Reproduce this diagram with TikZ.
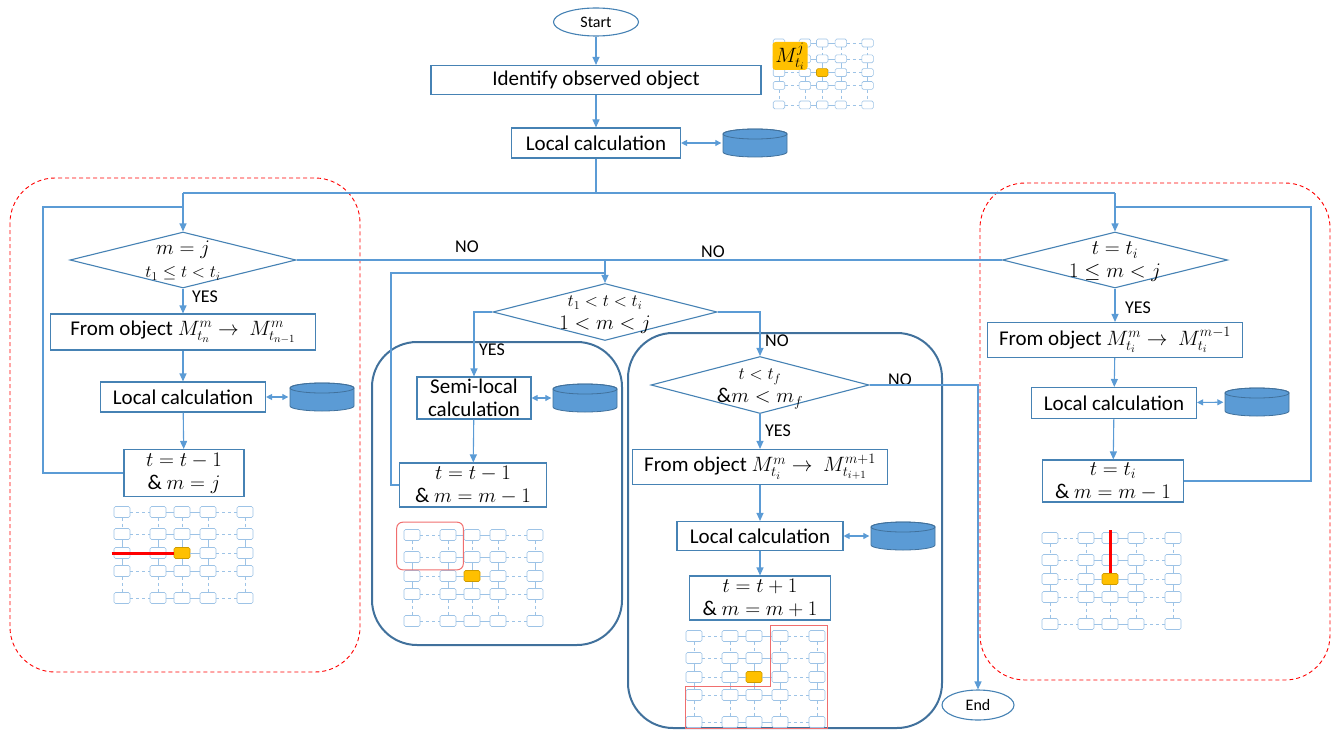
\documentclass[tikz,border=0pt]{standalone}
\usepackage{fontspec}
\setmainfont{Carlito}
\usepackage{amsmath,amssymb}
\usetikzlibrary{arrows.meta,positioning,shapes.geometric,calc}

\definecolor{flowblue}{RGB}{91,155,213}
\definecolor{boxblue}{RGB}{70,130,180}
\definecolor{panelblue}{RGB}{65,113,156}
\definecolor{gridblue}{RGB}{157,195,230}
\definecolor{hotorange}{RGB}{255,192,0}
\definecolor{markred}{RGB}{240,110,110}

\newcommand{\smallmath}{\fontsize{17}{20}\selectfont}
\newcommand{\cond}[2]{\makebox[0pt]{\smash{\raisebox{-7pt}{\begin{tabular}{@{}c@{}}#1\\#2\end{tabular}}}}}

\tikzset{
  every node/.style={font=\fontsize{21}{23}\selectfont},
  proc/.style={rectangle, draw=boxblue, line width=1.1pt, fill=white, inner sep=0pt, align=center},
  decide/.style={diamond, draw=boxblue, line width=1.1pt, fill=white, inner sep=0pt},
  term/.style={ellipse, draw=boxblue, line width=1.1pt, fill=white, inner sep=0pt, font=\fontsize{16}{18}\selectfont},
  store/.style={rectangle, minimum width=67pt, minimum height=32pt, inner sep=0pt,
    path picture={
      \begin{scope}[shift={(path picture bounding box.center)}, x=1pt, y=1pt]
        \filldraw[fill=flowblue, draw=panelblue, line width=0.8pt] (-32,9) -- (-32,-9)
          arc[start angle=180, end angle=360, x radius=32, y radius=5] -- (32,9)
          arc[start angle=0, end angle=180, x radius=32, y radius=5] -- cycle;
        \draw[panelblue, line width=0.8pt] (0,9) ellipse[x radius=32, y radius=5];
      \end{scope}
    }},
  line/.style={draw=flowblue, line width=1.1pt},
  flow/.style={line, -{Triangle[length=8pt,width=7pt]}},
  both/.style={line, {Triangle[length=6pt,width=6pt]}-{Triangle[length=6pt,width=6pt]}},
  tag/.style={font=\fontsize{18}{20}\selectfont},
  panel/.style={draw=panelblue, line width=2pt, rounded corners=45pt},
  zone/.style={draw=red, dash pattern=on 4pt off 3pt, line width=0.9pt, rounded corners=45pt},
  cell/.style={rectangle, rounded corners=1.5pt, draw=gridblue, fill=white, line width=0.6pt, minimum width=16pt, minimum height=11pt, inner sep=0pt},
  hotcell/.style={cell, fill=hotorange, draw=hotorange!80!black},
  link/.style={draw=gridblue, line width=0.6pt},
  redmark/.style={draw=red, line width=3pt},
  redbox/.style={draw=markred, line width=1pt},
  mgrid/.pic={
    \foreach \cx [count=\i] in {0,36,60,86,123}
      \foreach \cy [count=\j] in {0,22,41,59,86} {
        \def\st{cell}
        \ifnum\i\j=33 \def\st{hotcell}\fi
        \node[\st] (-c\i\j) at (\cx,\cy) {};
      }
    \foreach \j in {1,...,5} {
      \draw[link, dashed] (-c1\j) -- (-c2\j);
      \draw[link] (-c2\j) -- (-c3\j) (-c3\j) -- (-c4\j);
      \draw[link, dashed] (-c4\j) -- (-c5\j);
    }
    \foreach \i in {1,...,5} {
      \draw[link, dashed] (-c\i1) -- (-c\i2);
      \draw[link] (-c\i2) -- (-c\i3) (-c\i3) -- (-c\i4);
      \draw[link, dashed] (-c\i4) -- (-c\i5);
    }
  }
}

\begin{document}
\begin{tikzpicture}[x=1pt, y=-1pt]
\useasboundingbox (0,0) rectangle (1337,733);

% zones and panels
\draw[zone] (10,178) rectangle (360,672);
\draw[zone] (980,183) rectangle (1330,680);
\draw[panel] (372,342) rectangle (622,645);
\draw[panel] (628,333) rectangle (942,728);

% main column
\node[term, minimum width=85pt, minimum height=28pt] (start) at (596,22) {Start};
\node[proc, minimum width=330pt, minimum height=29pt] (ident) at (596,80) {Identify observed object};
\node[proc, minimum width=169pt, minimum height=30pt] (calc) at (596,143) {Local calculation};
\node[store] (db) at (755,143) {};
\pic[scale=0.72, transform shape] (gt) at (779,43) {mgrid};
\node[fill=hotorange, rounded corners=3pt, minimum width=35pt, minimum height=28pt, inner sep=0pt, font=\fontsize{20}{22}\selectfont] (lab) at (790,56) {$M^{j}_{t_i}$};

% left branch
\node[decide, minimum width=226pt, minimum height=56pt] (dl) at (183,260) {\cond{$m=j$}{\smallmath $t_1\le t<t_i$}};
\node[proc, minimum width=265pt, minimum height=36pt] (fromL) at (183,332) {From object $M^m_{t_n}\rightarrow\ M^m_{t_{n-1}}$};
\node[proc, minimum width=165pt, minimum height=30pt] (calcL) at (183,397) {Local calculation};
\node[store] (dbL) at (322,397) {};
\node[proc, minimum width=120pt, minimum height=47pt] (stepL) at (184,473) {$t=t-1$\\\& $m=j$};
\pic (gl) at (122,512) {mgrid};
\draw[redmark] ([xshift=-2pt]gl-c13.west) -- (gl-c33.west);

% middle branch
\node[decide, minimum width=224pt, minimum height=57pt] (dm) at (605,312) {\cond{\smallmath $t_1<t<t_i$}{$1<m<j$}};
\node[proc, minimum width=114pt, minimum height=42pt] (semi) at (474,398) {Semi-local\\calculation};
\node[store] (dbM) at (585,398) {};
\node[proc, minimum width=147pt, minimum height=44pt] (stepM) at (473,485) {$t=t-1$\\\& $m=m-1$};
\pic (gm) at (412,535) {mgrid};
\draw[redbox, rounded corners=6pt] ([shift={(-7,-7)}]gm-c11.north west) rectangle ([shift={(7,7)}]gm-c22.south east);

\node[decide, minimum width=218pt, minimum height=57pt] (dt) at (760,385) {\cond{\smallmath $t<t_f$}{\&$m<m_f$}};
\node[term, minimum width=72pt, minimum height=30pt] (end) at (978,705) {End};
\node[proc, minimum width=255pt, minimum height=35pt] (fromP) at (760,467) {From object $M^m_{t_i}\rightarrow\ M^{m+1}_{t_{i+1}}$};
\node[proc, minimum width=166pt, minimum height=29pt] (calcP) at (760,536) {Local calculation};
\node[store] (dbP) at (903,536) {};
\node[proc, minimum width=141pt, minimum height=44pt] (stepP) at (760,598) {$t=t+1$\\\& $m=m+1$};
\pic (gp) at (694,636) {mgrid};
\draw[redbox] ($(gp-c41.north west)+(-1,-5)$) -- ($(gp-c51.north east)+(2,-5)$) -- ($(gp-c55.south east)+(2,1)$)
  -- ($(gp-c15.south west)+(0,1)$) |- ($(gp-c43.south west)+(-1,4)$) -- cycle;

% right branch
\node[decide, minimum width=225pt, minimum height=56pt] (dr) at (1115,260) {\cond{$t=t_i$}{$1\le m<j$}};
\node[proc, minimum width=255pt, minimum height=35pt] (fromR) at (1115,340) {From object $M^m_{t_i}\rightarrow\ M^{m-1}_{t_i}$};
\node[proc, minimum width=165pt, minimum height=31pt] (calcR) at (1114,403) {Local calculation};
\node[store] (dbR) at (1257,402) {};
\node[proc, minimum width=141pt, minimum height=42pt] (stepR) at (1113,481) {$t=t_i$\\\& $m=m-1$};
\pic (gr) at (1050,538) {mgrid};
\draw[redmark] ([yshift=2pt]gr-c31.north) -- (gr-c33.north);

% labels
\node[tag] (yesL) at (205,297) {YES};
\node[tag] (noL) at (467,247) {NO};
\node[tag] (noR) at (713,252) {NO};
\node[tag] (yesM) at (492,350) {YES};
\node[tag] (noM) at (777,341) {NO};
\node[tag] (noE) at (900,380) {NO};
\node[tag] (yesP) at (778,431) {YES};
\node[tag] (yesR) at (1138,308) {YES};

% connectors
\coordinate (jl) at (183,193);
\coordinate (jr) at (1115,193);
\coordinate (loopL) at (43,207);
\coordinate (loopM) at (391,273);
\coordinate (loopR) at (1311,207);
\draw[flow] (start) -- (ident);
\draw[flow] (ident) -- (calc);
\draw[both] (calc) -- (db);
\draw[line] (calc.south) |- (jl);
\draw[line] (calc.south) |- (jr);
\draw[flow] (jl) -- (dl.north);
\draw[flow] (jr) -- (dr.north);
\draw[line] (stepL.west) -| (loopL) -- (loopL -| dl.north);
\draw[line] (stepR.east) -| (loopR) -- (loopR -| dr.north);
\draw[line] (dl.east) -- (dr.west);
\draw[flow] (dl.east -| dm.north) -- (dm.north);
\draw[line] (stepM.west) -| (loopM) -- (loopM -| dm.north);

\draw[flow] (dl) -- (fromL);
\draw[flow] (fromL) -- (calcL);
\draw[both] (calcL) -- (dbL);
\draw[flow] (calcL) -- (stepL);

\draw[flow] (dm.west) -| (semi.north);
\draw[both] (semi) -- (dbM);
\draw[flow] (semi) -- (stepM);

\draw[flow] (dm.east) -| (dt.north);
\draw[flow] (dt.east) -| (end.north);
\draw[flow] (dt) -- (fromP);
\draw[flow] (fromP) -- (calcP);
\draw[both] (calcP) -- (dbP);
\draw[flow] (calcP) -- (stepP);

\draw[flow] (dr) -- (fromR);
\draw[flow] (fromR) -- (calcR);
\draw[both] (calcR) -- (dbR);
\draw[flow] (calcR) -- (stepR);
\end{tikzpicture}
\end{document}
